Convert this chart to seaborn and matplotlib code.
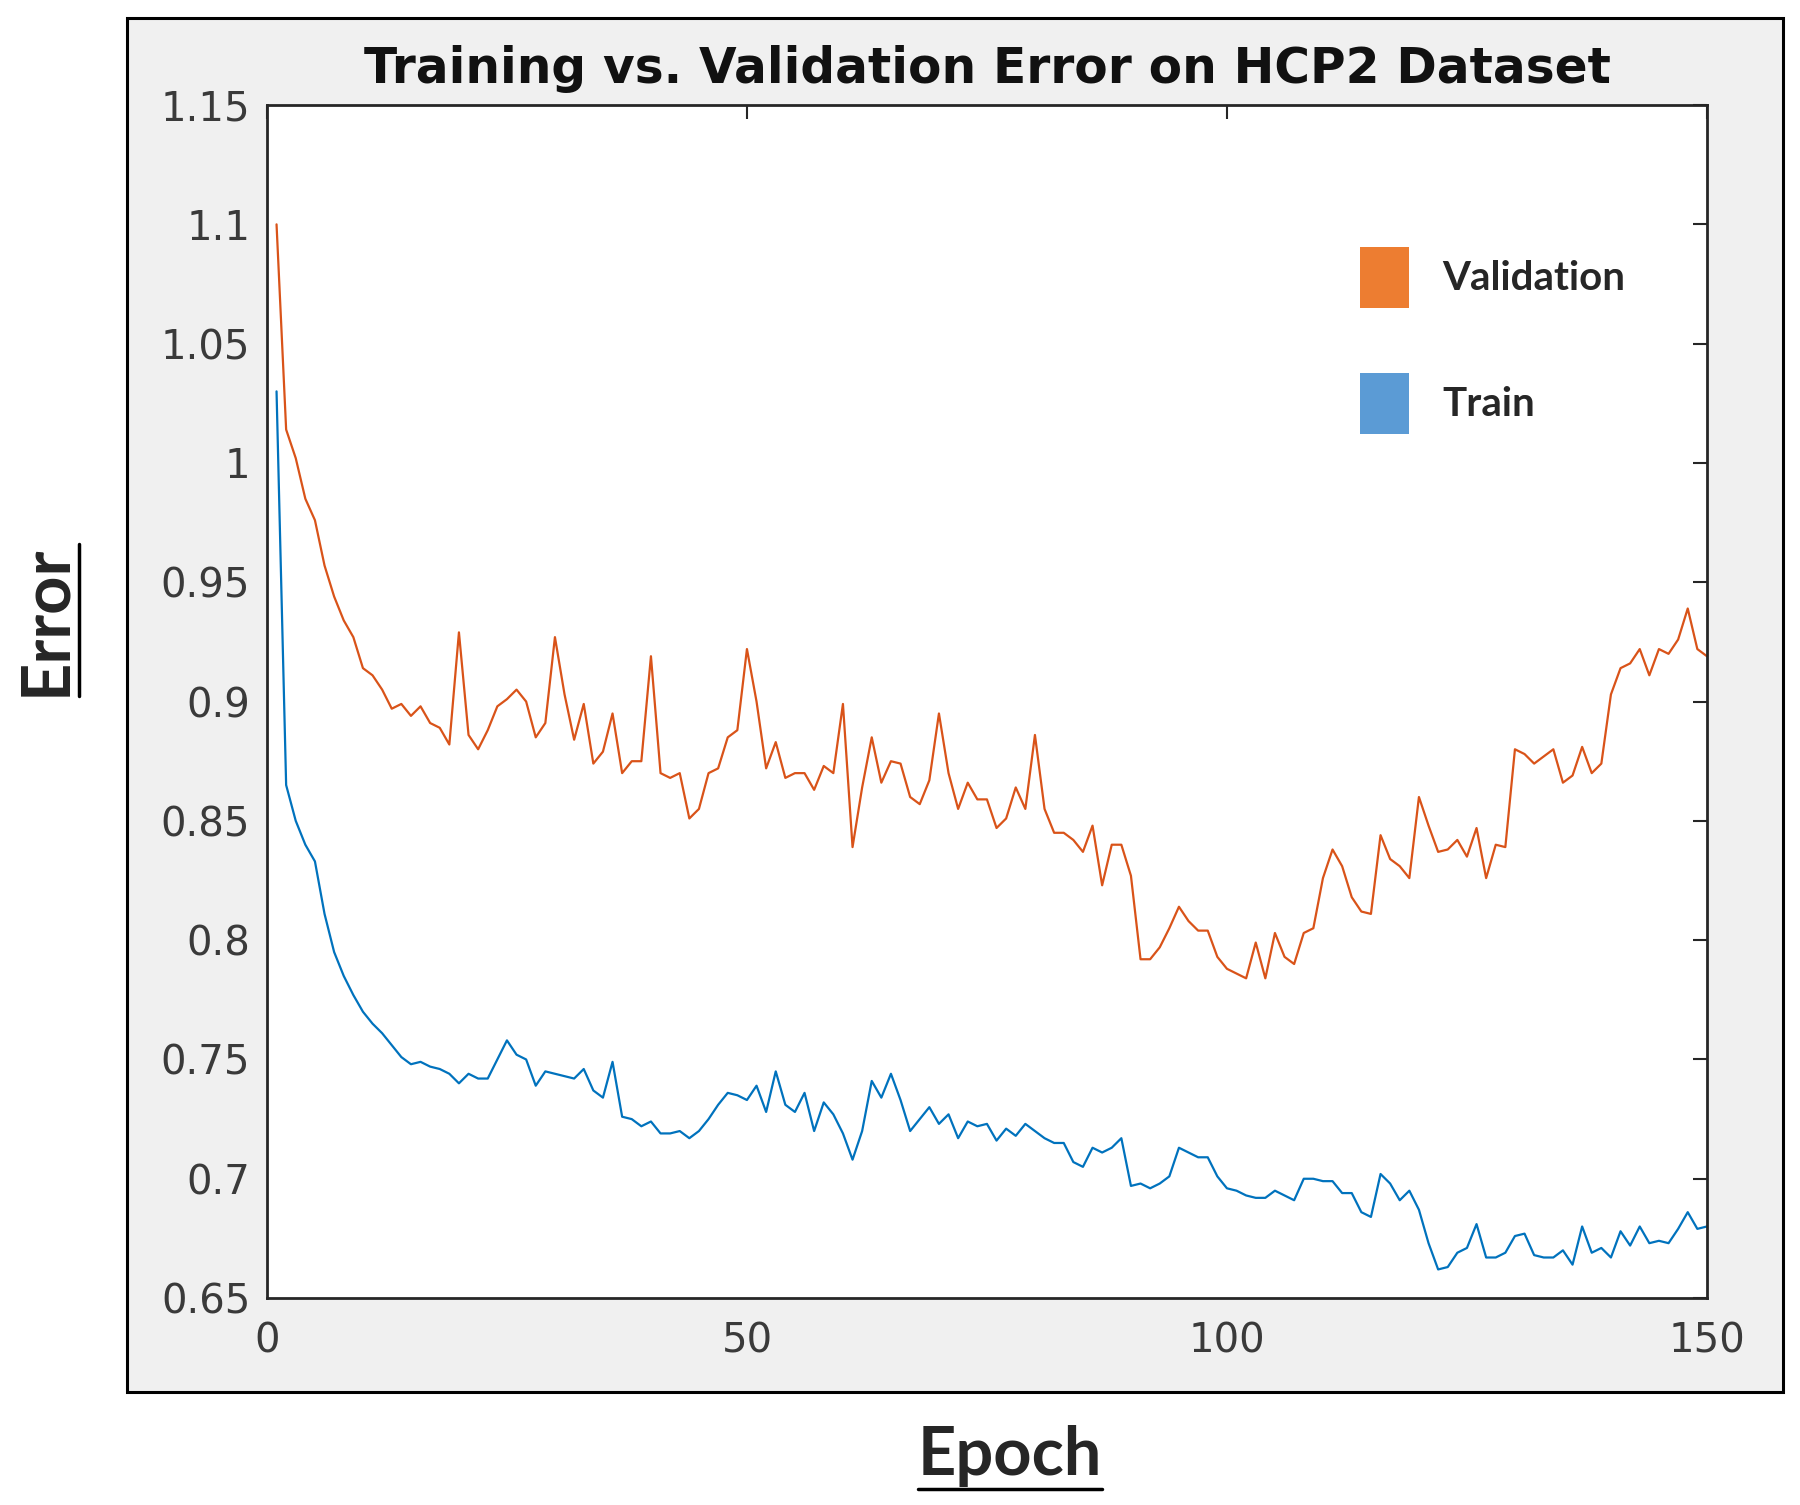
import pandas as pd
import seaborn as sns
import matplotlib.pyplot as plt
from matplotlib.patches import Patch, Rectangle
from matplotlib.lines import Line2D

# Dados (erro por epoca)
epochs = list(range(1, 151))

validation = [
    1.100, 1.014, 1.002, 0.985, 0.976, 0.957, 0.944, 0.934, 0.927, 0.914,
    0.911, 0.905, 0.897, 0.899, 0.894, 0.898, 0.891, 0.889, 0.882, 0.929,
    0.886, 0.880, 0.888, 0.898, 0.901, 0.905, 0.900, 0.885, 0.891, 0.927,
    0.903, 0.884, 0.899, 0.874, 0.879, 0.895, 0.870, 0.875, 0.875, 0.919,
    0.870, 0.868, 0.870, 0.851, 0.855, 0.870, 0.872, 0.885, 0.888, 0.922,
    0.900, 0.872, 0.883, 0.868, 0.870, 0.870, 0.863, 0.873, 0.870, 0.899,
    0.839, 0.864, 0.885, 0.866, 0.875, 0.874, 0.860, 0.857, 0.867, 0.895,
    0.870, 0.855, 0.866, 0.859, 0.859, 0.847, 0.851, 0.864, 0.855, 0.886,
    0.855, 0.845, 0.845, 0.842, 0.837, 0.848, 0.823, 0.840, 0.840, 0.827,
    0.792, 0.792, 0.797, 0.805, 0.814, 0.808, 0.804, 0.804, 0.793, 0.788,
    0.786, 0.784, 0.799, 0.784, 0.803, 0.793, 0.790, 0.803, 0.805, 0.826,
    0.838, 0.831, 0.818, 0.812, 0.811, 0.844, 0.834, 0.831, 0.826, 0.860,
    0.848, 0.837, 0.838, 0.842, 0.835, 0.847, 0.826, 0.840, 0.839, 0.880,
    0.878, 0.874, 0.877, 0.880, 0.866, 0.869, 0.881, 0.870, 0.874, 0.903,
    0.914, 0.916, 0.922, 0.911, 0.922, 0.920, 0.926, 0.939, 0.922, 0.919,
]

train = [
    1.030, 0.865, 0.850, 0.840, 0.833, 0.811, 0.795, 0.785, 0.777, 0.770,
    0.765, 0.761, 0.756, 0.751, 0.748, 0.749, 0.747, 0.746, 0.744, 0.740,
    0.744, 0.742, 0.742, 0.750, 0.758, 0.752, 0.750, 0.739, 0.745, 0.744,
    0.743, 0.742, 0.746, 0.737, 0.734, 0.749, 0.726, 0.725, 0.722, 0.724,
    0.719, 0.719, 0.720, 0.717, 0.720, 0.725, 0.731, 0.736, 0.735, 0.733,
    0.739, 0.728, 0.745, 0.731, 0.728, 0.736, 0.720, 0.732, 0.727, 0.719,
    0.708, 0.720, 0.741, 0.734, 0.744, 0.733, 0.720, 0.725, 0.730, 0.723,
    0.727, 0.717, 0.724, 0.722, 0.723, 0.716, 0.721, 0.718, 0.723, 0.720,
    0.717, 0.715, 0.715, 0.707, 0.705, 0.713, 0.711, 0.713, 0.717, 0.697,
    0.698, 0.696, 0.698, 0.701, 0.713, 0.711, 0.709, 0.709, 0.701, 0.696,
    0.695, 0.693, 0.692, 0.692, 0.695, 0.693, 0.691, 0.700, 0.700, 0.699,
    0.699, 0.694, 0.694, 0.686, 0.684, 0.702, 0.698, 0.691, 0.695, 0.687,
    0.673, 0.662, 0.663, 0.669, 0.671, 0.681, 0.667, 0.667, 0.669, 0.676,
    0.677, 0.668, 0.667, 0.667, 0.670, 0.664, 0.680, 0.669, 0.671, 0.667,
    0.678, 0.672, 0.680, 0.673, 0.674, 0.673, 0.679, 0.686, 0.679, 0.680,
]

series_names = ['Validation', 'Train']
line_colors = ['#D95319', '#0072BD']
legend_colors = ['#ED7D31', '#5B9BD5']
x_ticks = [0, 50, 100, 150]
y_ticks = [0.65, 0.70, 0.75, 0.80, 0.85, 0.90, 0.95, 1.00, 1.05, 1.10, 1.15]
y_tick_labels = ['0.65', '0.7', '0.75', '0.8', '0.85', '0.9', '0.95', '1', '1.05', '1.1', '1.15']

df = pd.DataFrame({
    'epoch': epochs + epochs,
    'error': validation + train,
    'serie': [series_names[0]] * len(validation) + [series_names[1]] * len(train),
})

sns.set_style('white')
plt.rcParams['font.family'] = ['DejaVu Sans']

fig = plt.figure(figsize=(18, 15.05), dpi=100)

# painel cinza estilo MATLAB
fig.add_artist(Rectangle((127 / 1800, 1 - 1392 / 1505), (1783 - 127) / 1800, (1392 - 18) / 1505,
                         transform=fig.transFigure, facecolor='#f0f0f0', edgecolor='black',
                         lw=2.2, zorder=-1))

ax = fig.add_axes([0.1483, 0.1375, 0.8, 0.7927])
ax.set_facecolor('white')
sns.lineplot(data=df, x='epoch', y='error', hue='serie', hue_order=series_names,
             palette=dict(zip(series_names, line_colors)), linewidth=1.6, legend=False, ax=ax)

ax.set_xlim(0, 150)
ax.set_ylim(0.65, 1.15)
ax.set_xticks(x_ticks)
ax.set_xticklabels([str(t) for t in x_ticks])
ax.set_yticks(y_ticks)
ax.set_yticklabels(y_tick_labels)
ax.set_xlabel('')
ax.set_ylabel('')
ax.tick_params(direction='in', length=10, width=1.5, top=True, right=True,
               labelsize=29, color='#262626', labelcolor='#3a3a3a')
ax.tick_params(axis='x', pad=17)
ax.tick_params(axis='y', pad=12)
for s in ax.spines.values():
    s.set_color('#262626')
    s.set_linewidth(2)

ax.set_title('Training vs. Validation Error on HCP2 Dataset', fontsize=35,
             fontweight='bold', pad=16, color='#111111')

handles = [Patch(facecolor=c, edgecolor='none') for c in legend_colors]
ax.legend(handles, series_names, loc='upper left', bbox_to_anchor=(0.759, 0.881),
          frameon=False, prop=dict(family='Lato', weight='bold', size=29),
          handlelength=1.22, handleheight=1.95, labelspacing=1.62, handletextpad=0.82,
          borderpad=0, borderaxespad=0)

t_err = fig.text(46 / 1800, 0.588, 'Error', rotation=90, ha='center', va='center',
                 family='Lato', fontweight='bold', fontsize=48)
t_ep = fig.text(0.561, 0.0326, 'Epoch', ha='center', va='center',
                family='Lato', fontweight='bold', fontsize=48)

# sublinhado dos rotulos
fig.canvas.draw()
bb = t_ep.get_window_extent()
fig.add_artist(Line2D([bb.x0, bb.x1], [bb.y0 - 2, bb.y0 - 2], transform=None, color='black', lw=2.5))
bb = t_err.get_window_extent()
fig.add_artist(Line2D([bb.x1 + 2, bb.x1 + 2], [bb.y0, bb.y1], transform=None, color='black', lw=2.5))

plt.savefig('out.png', dpi=100)
